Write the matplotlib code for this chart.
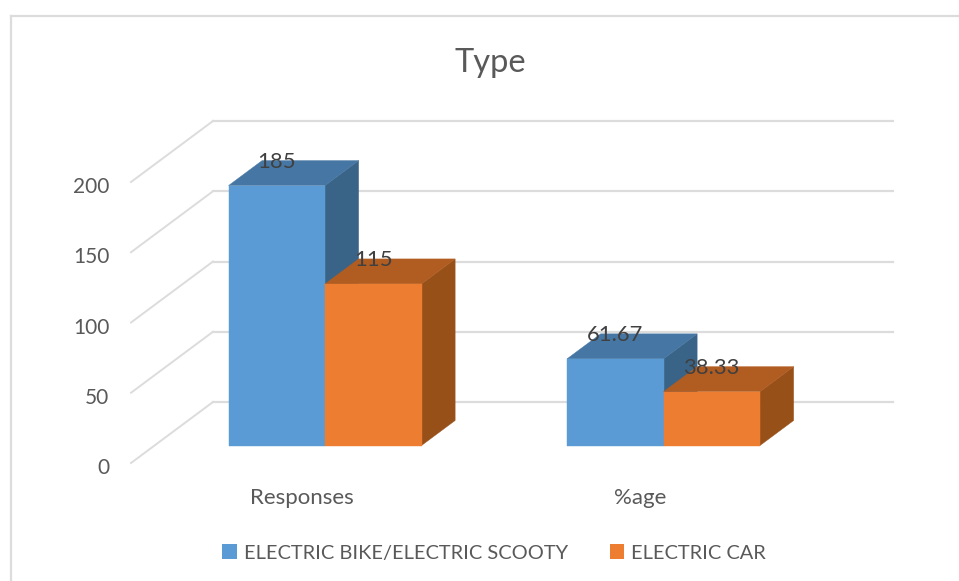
import matplotlib
matplotlib.use("Agg")
import matplotlib.pyplot as plt
from matplotlib.patches import Polygon, Rectangle
from matplotlib.lines import Line2D
from matplotlib.transforms import ScaledTranslation

categories = ["Responses", "%age"]
series_names = ["ELECTRIC BIKE/ELECTRIC SCOOTY", "ELECTRIC CAR"]
bike_values = [185, 61.67]
car_values = [115, 38.33]
bike_labels = ["185", "61.67"]
car_labels = ["115", "38.33"]
y_ticks = [0, 50, 100, 150, 200]

W, H = 959, 581
FONT = "Lato"
TEXT = "#404040"
GRID = "#DCDCDC"

fig = plt.figure(figsize=(W / 100, H / 100), dpi=100)
fig.patch.set_facecolor("white")

# The axes rectangle is the front edge of the floor of the 3-D box.
left, right, base, top = 131, 893, 463, 120
ax = fig.add_axes([left / W, 1 - base / H, (right - left) / W, (base - top) / H])
PX_PER_UNIT = 1.405
PX_PER_CAT = 338.5
ax.set_ylim(0, (base - top) / PX_PER_UNIT)
ax.set_xlim((left - 301.5) / PX_PER_CAT, (right - 301.5) / PX_PER_CAT)
ax.patch.set_visible(False)
for s in ax.spines.values():
    s.set_visible(False)

# Oblique projection: depth 0..1 shifts a point right and up on screen.
DEPTH_X = 82 / PX_PER_CAT
DEPTH_Y = 61 / PX_PER_UNIT


def proj(x, v, d):
    return x + DEPTH_X * d, v + DEPTH_Y * d


# Back wall gridlines and their diagonals across the side wall.
x_l, x_r = ax.get_xlim()
for v in y_ticks:
    ax.plot(*zip(proj(x_l, v, 0), proj(x_l, v, 1)), color=GRID, lw=1.4, clip_on=False, zorder=1)
    wall_start = proj(x_l, v, 1)
    ax.plot([wall_start[0], x_r], [wall_start[1]] * 2, color=GRID, lw=1.6, clip_on=False, zorder=1)

BAR_W = 96.5 / PX_PER_CAT
D0, D1 = 17.5 / 61, 42.5 / 61


def draw_box(x0, value, front, top_c, side_c, z):
    x1 = x0 + BAR_W
    ax.add_patch(Polygon([proj(x1, 0, D0), proj(x1, 0, D1), proj(x1, value, D1), proj(x1, value, D0)],
                         closed=True, fc=side_c, ec=side_c, lw=0.3, zorder=z, clip_on=False))
    ax.add_patch(Polygon([proj(x0, value, D0), proj(x1, value, D0), proj(x1, value, D1), proj(x0, value, D1)],
                         closed=True, fc=top_c, ec=top_c, lw=0.3, zorder=z, clip_on=False))
    ax.add_patch(Polygon([proj(x0, 0, D0), proj(x1, 0, D0), proj(x1, value, D0), proj(x0, value, D0)],
                         closed=True, fc=front, ec=front, lw=0.3, zorder=z + 0.1, clip_on=False))


for i, cat in enumerate(categories):
    draw_box(i - BAR_W, bike_values[i], "#5B9BD5", "#4676A3", "#3A6487", 3)
    draw_box(i, car_values[i], "#ED7D31", "#B15C21", "#985019", 4)

# Value labels sit just above the front top edge of each bar.
for i in range(len(categories)):
    for offs, vals, labs in ((-BAR_W / 2, bike_values, bike_labels), (BAR_W / 2, car_values, car_labels)):
        ax.annotate(labs[i], proj(i + offs, vals[i], D0), xytext=(0, 24), textcoords="offset pixels",
                    ha="center", va="center", fontsize=15.8, color=TEXT, family=FONT, zorder=6)

ax.set_xticks(range(len(categories)))
ax.set_xticklabels(categories, family=FONT, fontsize=16, color="#595959")
ax.set_yticks(y_ticks)
ax.set_yticklabels([str(v) for v in y_ticks], family=FONT, fontsize=15, color="#595959")
ax.tick_params(axis="both", length=0)
ax.tick_params(axis="x", pad=18)
ax.tick_params(axis="y", pad=15.5)
nudge = ScaledTranslation(0, -3 / 100, fig.dpi_scale_trans)
for lab in ax.get_yticklabels():
    lab.set_transform(lab.get_transform() + nudge)

fig.text(490 / W, 1 - 63 / H, "Type", ha="center", va="center", family=FONT, fontsize=23.5, color="#595959")

# Chart frame: left and top edges only.
frame_x, frame_y = 10.5, 15.5
fig.add_artist(Line2D([frame_x / W, frame_x / W], [0, 1 - frame_y / H], color=GRID, lw=1.6))
fig.add_artist(Line2D([frame_x / W, 958 / W], [1 - frame_y / H] * 2, color=GRID, lw=1.6))

# Legend
handles = [Rectangle((0, 0), 1, 1, fc=c) for c in ("#5B9BD5", "#ED7D31")]
fig.legend(handles, series_names, loc="center", bbox_to_anchor=(494 / W, 1 - 553 / H), ncol=2,
           frameon=False, prop={"family": FONT, "size": 14.4}, labelcolor="#595959",
           handlelength=0.72, handleheight=0.72, handletextpad=0.35, columnspacing=2.1)

fig.savefig("out.png", dpi=100)
